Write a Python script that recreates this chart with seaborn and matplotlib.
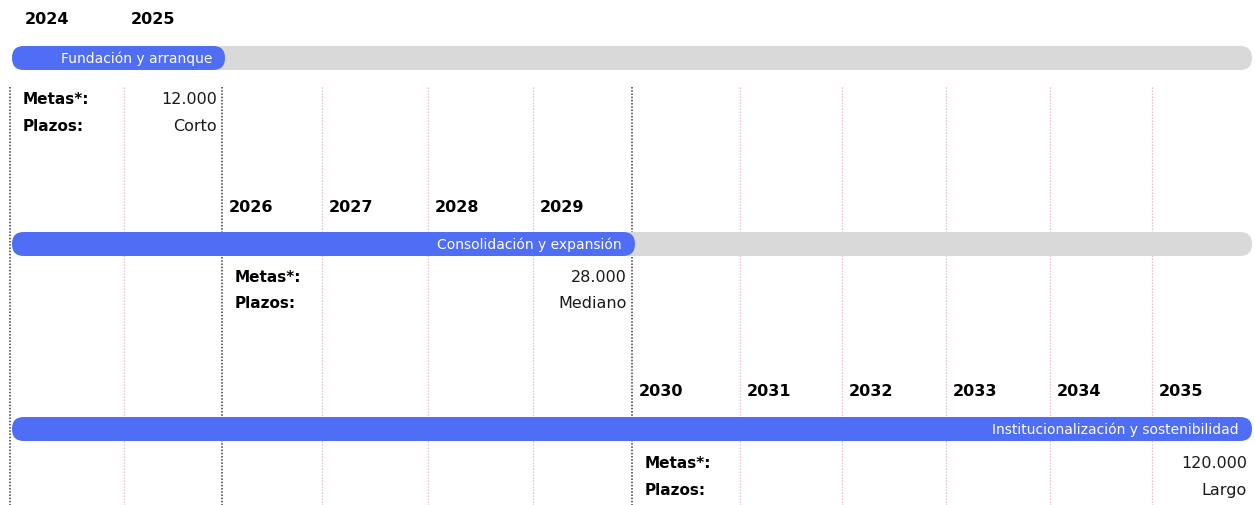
import matplotlib
matplotlib.use("Agg")
import matplotlib.pyplot as plt
from matplotlib.patches import FancyBboxPatch
import seaborn as sns

# Roadmap data
years = [2024, 2025, 2026, 2027, 2028, 2029, 2030, 2031, 2032, 2033, 2034, 2035]
phases = ["Fundación y arranque", "Consolidación y expansión",
          "Institucionalización y sostenibilidad"]
phase_start = [2024, 2026, 2030]
phase_end = [2025, 2029, 2035]
metas = [12000, 28000, 120000]
plazos = ["Corto", "Mediano", "Largo"]

# Layout (pixel units; the axes map 1 unit to 1 pixel)
W, H = 1255, 506
col_edges = [10, 124, 222, 322, 428, 533, 632, 740, 842, 946, 1050, 1152, 1252]
bar_y = [59, 245, 430]
year_y = [19, 207, 392]
metas_y = [99, 277, 464]
plazos_y = [126, 304, 491]
bar_h = 24
bar_left = 12
grid_top = 88

BLUE = "#4F6EF5"
GREY = "#D9D9D9"

sns.set_theme(style="white")
plt.rcParams["font.family"] = ["DejaVu Sans"]

fig = plt.figure(figsize=(W / 100, H / 100), dpi=100)
ax = fig.add_axes([0, 0, 1, 1])
ax.set_xlim(0, W)
ax.set_ylim(H, 0)
ax.axis("off")

def fmt_num(v):
    return f"{v:,}".replace(",", ".")

# Column separators: phase boundaries dark, others faint
boundary_idx = {0} | {years.index(e) + 1 for e in phase_end[:-1]}
for i, x in enumerate(col_edges[:-1]):
    if i in boundary_idx:
        ax.vlines(x, grid_top, H, colors="#3c3c3c", linewidth=1.1,
                  linestyles=(0, (1.0, 1.1)), zorder=1)
    else:
        ax.vlines(x, grid_top, H, colors="#dcb4bc", linewidth=0.9,
                  linestyles=(0, (1.0, 1.4)), zorder=1)

right_edge = col_edges[-1]
for r, name in enumerate(phases):
    yc = bar_y[r]
    i0 = years.index(phase_start[r])
    i1 = years.index(phase_end[r])

    # Year headers for this phase
    for i in range(i0, i1 + 1):
        x = col_edges[i] + (15 if i == 0 else 7)
        ax.text(x, year_y[r], str(years[i]), fontsize=11.5, fontweight="bold",
                ha="left", va="center", color="#000000", zorder=3)

    # Full timeline track
    track = FancyBboxPatch((bar_left, yc - bar_h / 2), right_edge - bar_left, bar_h,
                           boxstyle=f"round,pad=0,rounding_size={bar_h / 2}",
                           facecolor=GREY, edgecolor="none", zorder=2)
    ax.add_patch(track)

    # Progress up to the end of the phase
    x_end = min(col_edges[i1 + 1] + 3, right_edge)
    prog = FancyBboxPatch((bar_left, yc - bar_h / 2), x_end - bar_left, bar_h,
                          boxstyle=f"round,pad=0,rounding_size={bar_h / 2}",
                          facecolor=BLUE, edgecolor="none", zorder=3)
    ax.add_patch(prog)
    ax.text(x_end - 13, yc, name, fontsize=10, color="white",
            ha="right", va="center", zorder=4)

    # Goals and term
    xl = col_edges[i0] + 13
    xr = col_edges[i1 + 1] - 5
    ax.text(xl, metas_y[r], "Metas*:", fontsize=11, fontweight="bold",
            ha="left", va="center", color="#000000", zorder=3)
    ax.text(xl, plazos_y[r], "Plazos:", fontsize=11, fontweight="bold",
            ha="left", va="center", color="#000000", zorder=3)
    ax.text(xr, metas_y[r], fmt_num(metas[r]), fontsize=11.5,
            ha="right", va="center", color="#1a1a1a", zorder=3)
    ax.text(xr, plazos_y[r], plazos[r], fontsize=11.5,
            ha="right", va="center", color="#1a1a1a", zorder=3)

fig.savefig("out.png", dpi=100, facecolor="white")
